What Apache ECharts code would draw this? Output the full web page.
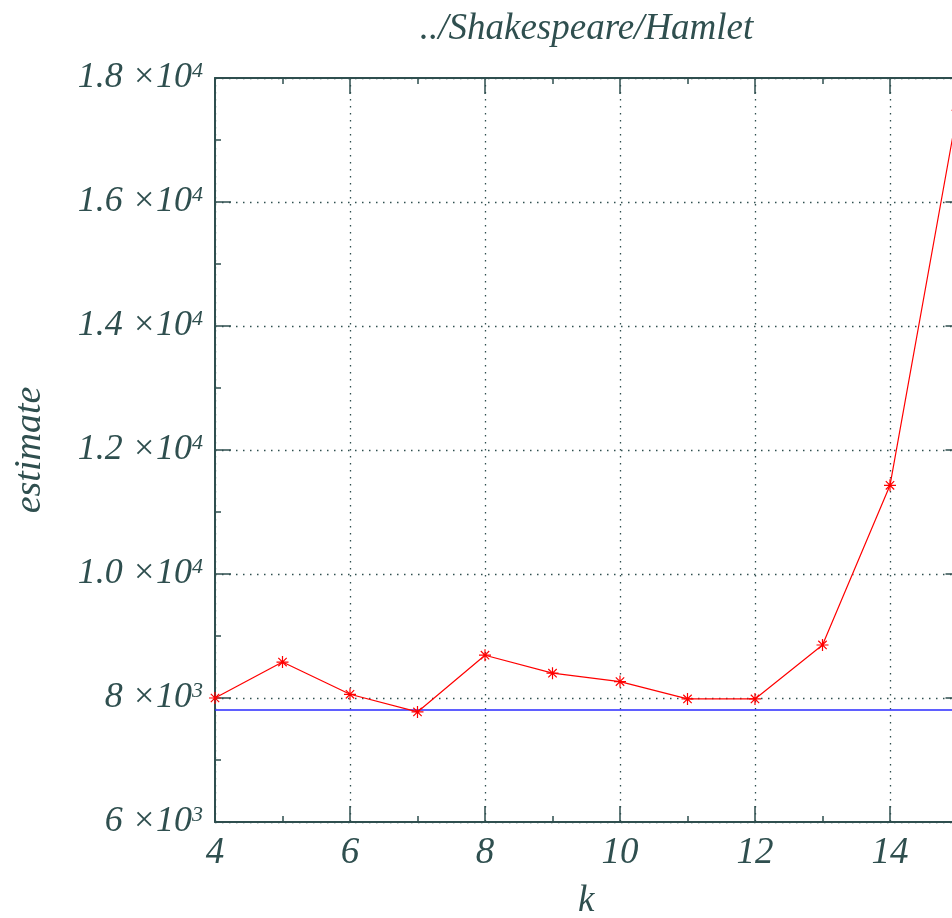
<!DOCTYPE html>
<html><head><meta charset="utf-8">
<script src="https://cdn.jsdelivr.net/npm/echarts@6/dist/echarts.min.js"></script>
<style>html,body{margin:0;padding:0;overflow:hidden;background:#fff}#c{width:1000px;height:918px}</style>
</head><body><div id="c"></div>
<script>
const titleText = '../Shakespeare/Hamlet';
const xName = 'k';
const yName = 'estimate';
const kValues = [4, 5, 6, 7, 8, 9, 10, 11, 12, 13, 14, 15];
const estimates = [8000, 8580, 8060, 7775, 8690, 8400, 8265, 7985, 7985, 8855, 11430, 17480];
const baselineK = [4, 15];
const baselineValue = [7805, 7805];
const yTickMantissa = ['6', '8', '1.0', '1.2', '1.4', '1.6', '1.8'];
const yTickExponent = ['3', '3', '4', '4', '4', '4', '4'];

const ink = '#2f4f4f';
const serif = '"Liberation Serif", "DejaVu Serif", serif';

const chart = echarts.init(document.getElementById('c'), null, {renderer: 'canvas'});

function xAxisCfg(pos, withLabels) {
  return {
    type: 'value', min: 4, max: 15, interval: 2, position: pos,
    axisLine: {show: true, onZero: false, lineStyle: {color: ink, width: 2}},
    axisTick: {show: true, inside: true, length: 16, lineStyle: {color: ink, width: 1.5}},
    minorTick: {show: true, splitNumber: 2, length: 6, lineStyle: {color: ink, width: 1.5}},
    splitLine: {show: withLabels, lineStyle: {color: ink, width: 1.3, type: [1.5, 5.5]}},
    axisLabel: {show: withLabels, showMaxLabel: false, margin: 13, fontFamily: serif, fontStyle: 'italic', fontSize: 37, color: ink},
    name: withLabels ? xName : '', nameLocation: 'middle', nameGap: 61,
    nameTextStyle: {fontFamily: serif, fontStyle: 'italic', fontSize: 37, color: ink}
  };
}
function yAxisCfg(pos, withLabels) {
  return {
    type: 'value', min: 6000, max: 18000, interval: 2000, position: pos,
    axisLine: {show: true, onZero: false, lineStyle: {color: ink, width: 2}},
    axisTick: {show: true, inside: true, length: withLabels ? 16 : 12, lineStyle: {color: ink, width: 1.5}},
    minorTick: {show: withLabels, splitNumber: 2, length: 6, lineStyle: {color: ink, width: 1.5}},
    splitLine: {show: withLabels, lineStyle: {color: ink, width: 1.3, type: [1.5, 5.5]}},
    axisLabel: {
      show: withLabels, margin: 12,
      formatter: function (v) {
        const i = Math.round((v - 6000) / 2000);
        return '{m|' + yTickMantissa[i] + ' \u00d710}{e|' + yTickExponent[i] + '}';
      },
      rich: {
        m: {fontFamily: serif, fontStyle: 'italic', fontSize: 36, color: ink, lineHeight: 36, verticalAlign: 'bottom'},
        e: {fontFamily: serif, fontStyle: 'italic', fontSize: 22, color: ink, lineHeight: 36, verticalAlign: 'top', padding: [0, 0, 14, 0]}
      }
    },
    name: withLabels ? yName : '', nameLocation: 'middle', nameGap: 166, nameRotate: 90,
    nameTextStyle: {fontFamily: serif, fontStyle: 'italic', fontSize: 38, color: ink}
  };
}

chart.setOption({
  animation: false,
  backgroundColor: '#fff',
  grid: {left: 215, top: 78, right: 1000 - 957.5, bottom: 918 - 822, containLabel: false, outerBoundsMode: 'none'},
  xAxis: [xAxisCfg('bottom', true), xAxisCfg('top', false)],
  yAxis: [yAxisCfg('left', true), yAxisCfg('right', false)],
  graphic: [{
    type: 'text', x: 586.5, y: 29, z: 10,
    style: {text: titleText, fontFamily: serif, fontStyle: 'italic', fontSize: 37, fill: ink,
      textAlign: 'center', textVerticalAlign: 'middle', align: 'center', verticalAlign: 'middle'}
  }],
  series: [
    {
      type: 'line', name: 'baseline', xAxisIndex: 0, yAxisIndex: 0,
      data: baselineK.map((k, i) => [k, baselineValue[i]]),
      showSymbol: false, symbol: 'none', clip: true, z: 3,
      lineStyle: {color: '#2a2aff', width: 1.5}
    },
    {
      type: 'line', name: 'estimate', xAxisIndex: 0, yAxisIndex: 0,
      data: kValues.map((k, i) => [k, estimates[i]]),
      symbol: 'path://M5,0L5,10M0,5L10,5M1.5,1.5L8.5,8.5M1.5,8.5L8.5,1.5',
      symbolSize: 12, showAllSymbol: true, clip: true, z: 4,
      lineStyle: {color: '#ff0000', width: 1.2},
      itemStyle: {color: '#ff0000', borderColor: '#ff0000', borderWidth: 1.2}
    }
  ]
});
</script></body></html>
